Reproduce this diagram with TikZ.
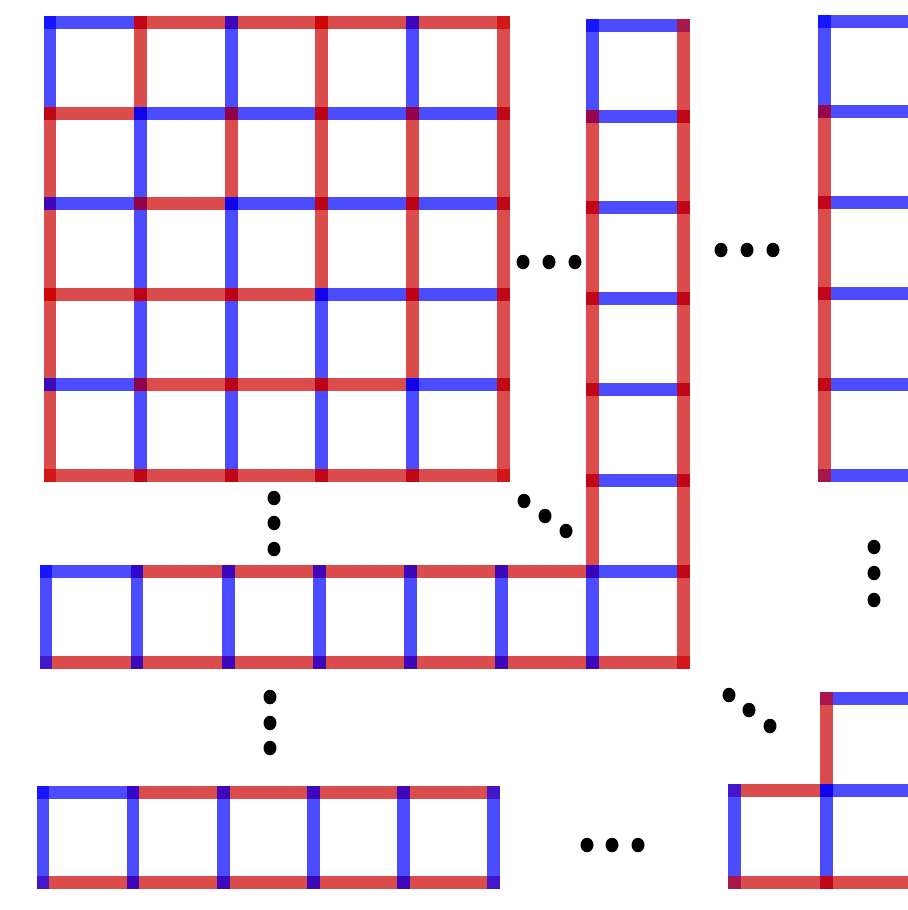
\documentclass[tikz,border=0pt]{standalone}
\usepackage{tikz}
\definecolor{edgered}{RGB}{204,0,0}
\definecolor{edgeblue}{RGB}{0,0,255}
\tikzset{
  rd/.style   = {draw=edgered, line width=0.26cm, line cap=rect, opacity=0.7},
  bl/.style   = {draw=edgeblue, line width=0.26cm, line cap=rect, opacity=0.7},
  dotfill/.style = {fill=black},
}

\begin{document}
\begin{tikzpicture}[x=0.02cm, y=-0.02cm]
  \useasboundingbox (0,0) rectangle (908,910);
  \clip (0,0) rectangle (908,910);

  % main 5x5 grid: row j of horizontals = column j of verticals
  \begin{scope}[shift={(50,22.5)}, scale=90.6]
    \foreach \j/\cols in {0/{bl,rd,rd,rd,rd}, 1/{rd,bl,bl,bl,bl}, 2/{bl,rd,bl,bl,bl},
                          3/{rd,rd,rd,bl,bl}, 4/{bl,rd,rd,rd,bl}, 5/{rd,rd,rd,rd,rd}}
      \foreach \c [count=\i from 0] in \cols {
        \draw[\c] (\i,\j) -- (\i+1,\j);
        \draw[\c] (\j,\i) -- (\j,\i+1);
      }
  \end{scope}

  % right column and bottom strip
  \begin{scope}[shift={(46,25)}, scale=91]
    \foreach \k in {0,...,6} \draw[bl] (6,\k) -- (7,\k);
    \draw[bl] (6,0) -- (6,1);
    \foreach \k in {1,...,5} \draw[rd] (6,\k) -- (6,\k+1);
    \foreach \k in {0,...,6} \draw[rd] (7,\k) -- (7,\k+1);
    \draw[bl] (0,6) -- (1,6);
    \foreach \k in {1,...,5} \draw[rd] (\k,6) -- (\k+1,6);
    \foreach \k in {0,...,6} \draw[rd] (\k,7) -- (\k+1,7);
    \foreach \k in {0,...,6} \draw[bl] (\k,6) -- (\k,7);
  \end{scope}

  % bottom-left strip
  \begin{scope}[shift={(43,792)}, scale=90]
    \draw[bl] (0,0) -- (1,0);
    \foreach \k in {1,...,4} \draw[rd] (\k,0) -- (\k+1,0);
    \foreach \k in {0,...,4} \draw[rd] (\k,1) -- (\k+1,1);
    \foreach \k in {0,...,5} \draw[bl] (\k,0) -- (\k,1);
  \end{scope}

  % far right column
  \begin{scope}[shift={(824,21)}, scale=90.8]
    \foreach \k in {0,...,5} \draw[bl] (0,\k) -- (1,\k);
    \draw[bl] (0,0) -- (0,1);
    \foreach \k in {1,...,4} \draw[rd] (0,\k) -- (0,\k+1);
  \end{scope}

  % bottom-right corner piece
  \begin{scope}[shift={(734,698)}, scale=92]
    \draw[bl] (1,0) -- (2,0);
    \draw[rd] (1,0) -- (1,1);
    \draw[rd] (0,1) -- (1,1);
    \draw[bl] (1,1) -- (2,1);
    \draw[bl] (0,1) -- (0,2);
    \draw[bl] (1,1) -- (1,2);
    \draw[rd] (0,2) -- (1,2);
    \draw[rd] (1,2) -- (2,2);
  \end{scope}

  % ellipsis dots
  \foreach \p in {(523,262),(549,262),(575,262),
                  (274,498),(274,523),(274,549),
                  (524,501),(545,516),(566,531),
                  (270,697),(270,723),(270,748),
                  (587,845),(612,845),(638,845),
                  (721,250),(747,250),(773,250),
                  (874,547),(874,573),(874,600),
                  (729,695),(749,710),(770,726)}
    \fill[dotfill] \p ellipse (0.13cm and 0.145cm);
\end{tikzpicture}
\end{document}
